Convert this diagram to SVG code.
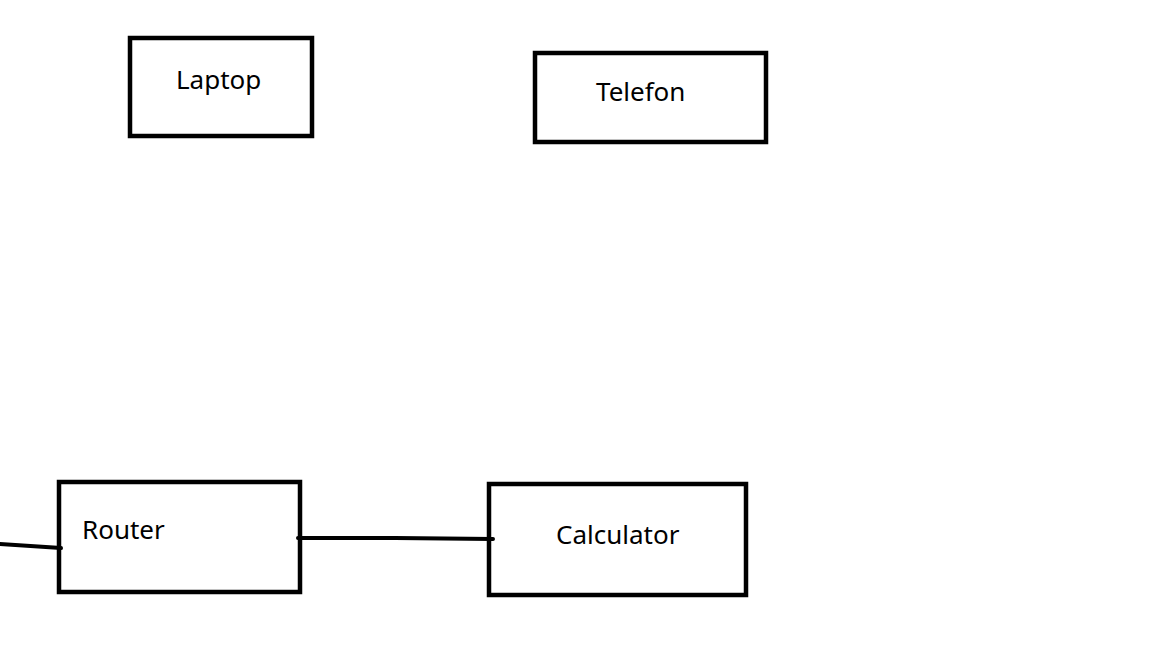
<svg xmlns="http://www.w3.org/2000/svg" width="1152" height="648" viewBox="0 0 1152 648">
<style>
.box{fill:#fff;stroke:#000;stroke-width:4.5}
.lbl{font-family:"Noto Sans","Open Sans",sans-serif;font-size:26px;fill:#000}
.con{fill:none;stroke:#000;stroke-width:4;stroke-linecap:round}
</style>
<rect width="1152" height="648" fill="#fff"/>
<g id="laptop">
<rect class="box" x="130" y="38" width="182" height="98"/>
<text class="lbl" x="176" y="89">Laptop</text>
</g>
<g id="telefon">
<rect class="box" x="535" y="53" width="231" height="89"/>
<text class="lbl" x="596" y="101">Telefon</text>
</g>
<g id="router">
<rect class="box" x="59" y="482" width="241" height="110"/>
<text class="lbl" x="82" y="539">Router</text>
</g>
<g id="calculator">
<rect class="box" x="489" y="484" width="257" height="111"/>
<text class="lbl" x="556" y="544">Calculator</text>
</g>
<g id="connectors">
<path class="con" d="M0 544 L61 548"/>
<path class="con" d="M298 538 L395 538 L493 539"/>
</g>
</svg>
